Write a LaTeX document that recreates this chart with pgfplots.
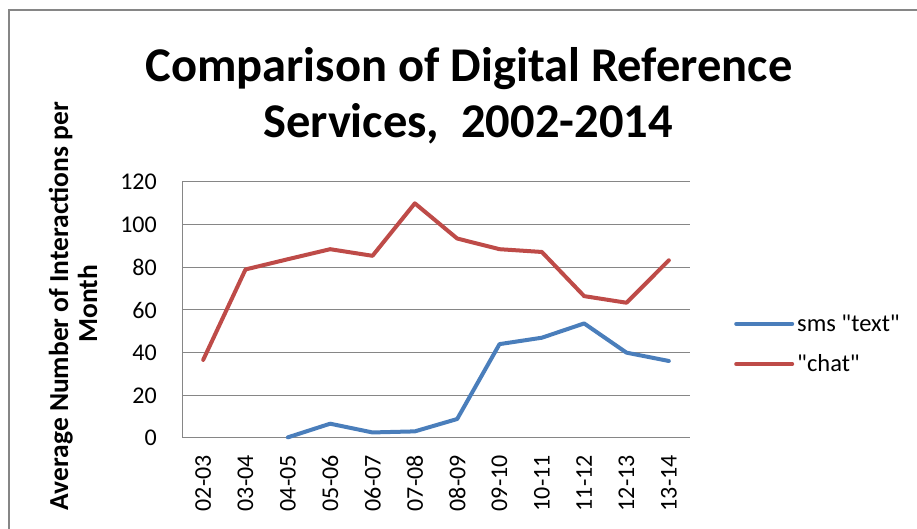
\documentclass[border=0pt]{standalone}
\usepackage{pgfplots}
\pgfplotsset{compat=1.18}
\usepackage{fontspec}
\setmainfont{Carlito}[Ligatures=TeXOff]
\definecolor{smsblue}{RGB}{74,126,187}
\definecolor{chatred}{RGB}{190,75,72}
\definecolor{gridgray}{RGB}{134,134,134}
\begin{document}
\begin{tikzpicture}[x=1pt,y=1pt]
\useasboundingbox (0,0) rectangle (917,529);
\fill[white] (0,0) rectangle (917,529);
\draw[gridgray, line width=2.2pt] (9,-5) -- (9,519) -- (925,519);
\begin{axis}[
  at={(182pt,91pt)}, anchor=south west,
  scale only axis, width=508pt, height=256pt,
  xmin=-0.5, xmax=11.5, ymin=0, ymax=120,
  ytick={0,20,...,120},
  xtick={0,...,11},
  xticklabels={02-03,03-04,04-05,05-06,06-07,07-08,08-09,09-10,10-11,11-12,12-13,13-14},
  axis x line*=bottom, axis y line*=left,
  axis line style={-, draw=gridgray, line width=1pt},
  ymajorgrids, grid style={gridgray, line width=1pt},
  major tick length=0pt,
  /pgf/number format/assume math mode=true,
  ticklabel style={font=\fontsize{24}{28}\selectfont, inner sep=0pt},
  yticklabel style={anchor=east},
  yticklabel shift=25pt,
  xticklabel style={rotate=90, anchor=east},
  xticklabel shift=17pt,
  legend style={at={(1.0807,0.367)}, anchor=west, draw=none, fill=none,
    font=\fontsize{24.5}{28}\selectfont, row sep=22pt, column sep=3pt,
    nodes={inner sep=0pt}},
  legend cell align=left,
  legend image code/.code={\draw[#1] (0pt,0pt) -- (56pt,0pt);},
  clip=false,
]
\addplot[smsblue, line width=4pt, line join=round, line cap=round] coordinates {
  (2,0.3) (3,6.7) (4,2.6) (5,3.1) (6,8.9) (7,44) (8,47) (9,53.7) (10,40) (11,36.1)
};
\addlegendentry{sms "text"}
\addplot[chatred, line width=4pt, line join=round, line cap=round] coordinates {
  (0,36.6) (1,79) (2,83.8) (3,88.5) (4,85.4) (5,110) (6,93.5) (7,88.5) (8,87.2) (9,66.5) (10,63.4) (11,83.3)
};
\addlegendentry{"chat"}
\end{axis}
\node[font=\bfseries\fontsize{48.5}{56}\selectfont, anchor=base, inner sep=0pt] at (469,447) {Comparison of Digital Reference};
\node[font=\bfseries\fontsize{48.5}{56}\selectfont, anchor=base, inner sep=0pt] at (468,391) {Services,\ \ 2002-2014};
\node[font=\bfseries\fontsize{27.5}{30}\selectfont, anchor=base, inner sep=0pt, rotate=90] at (68,223) {Average Number of Interactions per};
\node[font=\bfseries\fontsize{27.5}{30}\selectfont, anchor=base, inner sep=0pt, rotate=90] at (97,225) {Month};
\end{tikzpicture}
\end{document}
